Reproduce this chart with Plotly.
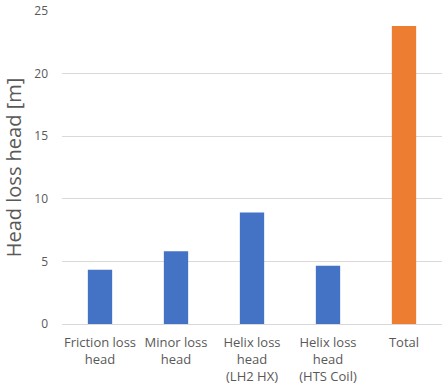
import plotly.graph_objects as go

categories = ["Friction loss<br>head", "Minor loss<br>head", "Helix loss<br>head<br>(LH2 HX)",
              "Helix loss<br>head<br>(HTS Coil)", "Total"]
values = [4.34, 5.82, 8.9, 4.65, 23.8]
colors = ["#4472C4", "#4472C4", "#4472C4", "#4472C4", "#ED7D31"]

fig = go.Figure(go.Bar(x=categories, y=values, marker=dict(color=colors, line=dict(width=0))))
fig.update_layout(
    width=446, height=388,
    margin=dict(l=62, r=4, t=11, b=64),
    plot_bgcolor="white", paper_bgcolor="white",
    bargap=0.68,
    font=dict(family="Open Sans", color="#595959", size=13),
    showlegend=False,
)
fig.update_yaxes(range=[0, 25], dtick=5, showgrid=True, gridcolor="#D9D9D9", gridwidth=1,
                 zeroline=True, zerolinecolor="#D9D9D9", zerolinewidth=1, automargin=False,
                 ticklabelstandoff=13, tickfont=dict(size=12, color="#595959"),
                 title=dict(text="Head loss head [m]", font=dict(size=20, color="#595959"), standoff=14))
fig.update_xaxes(showline=False, automargin=False, tickfont=dict(size=13, color="#595959"),
                 ticklabelstandoff=9)
fig.write_html("out.html", config={"displayModeBar": False},
               post_script="document.body.style.margin='0';")
